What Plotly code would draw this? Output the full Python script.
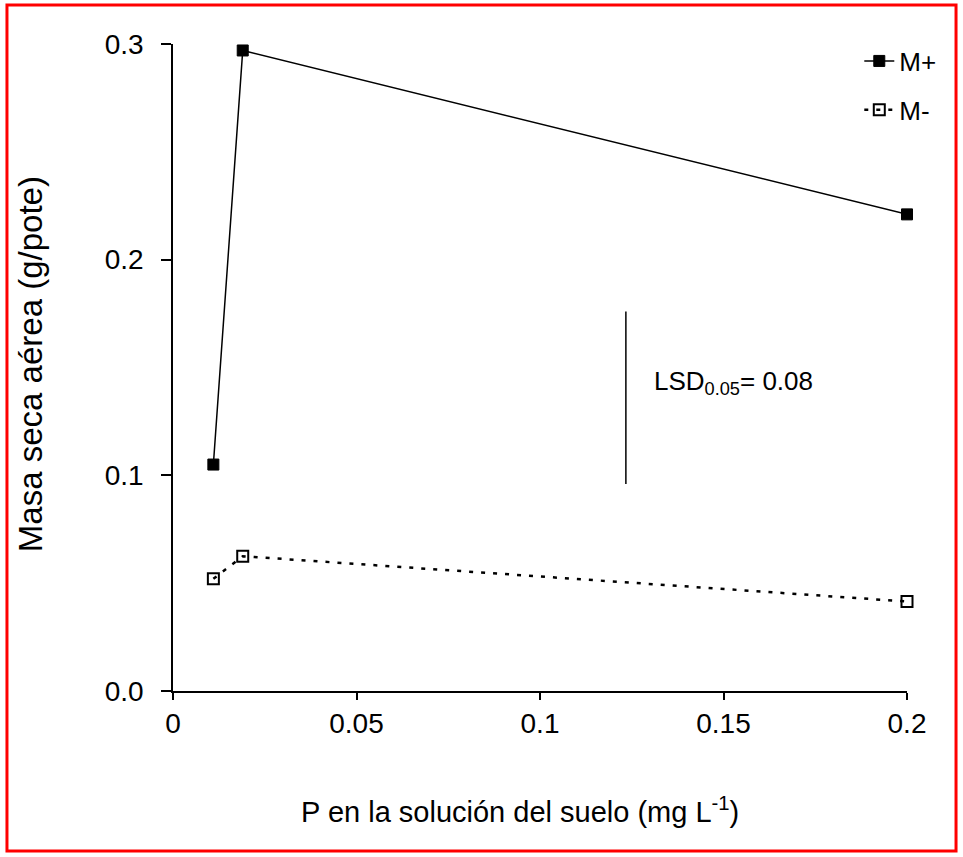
import plotly.graph_objects as go

# Data
p_solucion = [0.011, 0.019, 0.2]
masa_m_plus = [0.105, 0.297, 0.221]
masa_m_minus = [0.052, 0.0625, 0.0415]
lsd_x = 0.1234
lsd_center = 0.136
lsd_value = 0.08
x_ticks = [0, 0.05, 0.1, 0.15, 0.2]
x_ticklabels = ["0", "0.05", "0.1", "0.15", "0.2"]
y_ticks = [0.0, 0.1, 0.2, 0.3]
y_ticklabels = ["0.0", "0.1", "0.2", "0.3"]

FONT = "Liberation Sans, Arial, sans-serif"

fig = go.Figure()
fig.add_trace(go.Scatter(
    x=p_solucion, y=masa_m_plus, mode="lines+markers", name="M+",
    line=dict(color="black", width=1.5),
    marker=dict(symbol="square", size=11, color="black",
                line=dict(color="black", width=1)),
    legendgroup="a", cliponaxis=False,
))
fig.add_trace(go.Scatter(
    x=p_solucion, y=masa_m_minus, mode="lines+markers", name="M-",
    line=dict(color="black", width=2.5, dash="4px,8px"),
    marker=dict(symbol="square-open", size=11, color="black",
                line=dict(color="black", width=2)),
    legendgroup="b", cliponaxis=False,
))

# LSD bar
fig.add_shape(type="line", xref="x", yref="y",
              x0=lsd_x, x1=lsd_x,
              y0=lsd_center - lsd_value / 2, y1=lsd_center + lsd_value / 2,
              line=dict(color="black", width=1.5))
fig.add_annotation(x=lsd_x + 0.0071, y=lsd_center + 0.007, xref="x", yref="y",
                   text="LSD<sub>0.05</sub>= " + f"{lsd_value:.2f}",
                   showarrow=False, xanchor="left", yanchor="middle",
                   font=dict(size=26, color="black", family=FONT))

# Axis titles
fig.add_annotation(x=-0.195, y=0.505, xref="paper", yref="paper",
                   text="Masa seca aérea (g/pote)", textangle=-90,
                   showarrow=False, xanchor="center", yanchor="middle",
                   font=dict(size=33, color="black", family=FONT))
fig.add_annotation(x=0.473, y=-0.184, xref="paper", yref="paper",
                   text="P en la solución del suelo (mg L<sup>-1</sup>)",
                   showarrow=False, xanchor="center", yanchor="middle",
                   font=dict(size=29, color="black", family=FONT))

# Red frame
fig.add_shape(type="rect", xref="paper", yref="paper",
              x0=-0.2262, x1=1.0668, y0=-0.2473, y1=1.0603,
              line=dict(color="red", width=3))

fig.update_layout(
    width=963, height=857,
    margin=dict(l=173, r=56, t=44, b=166),
    paper_bgcolor="white", plot_bgcolor="white",
    font=dict(family=FONT, color="black", size=26),
    showlegend=True,
    legend=dict(x=0.935, y=1.01, xanchor="left", yanchor="top",
                bgcolor="rgba(0,0,0,0)", font=dict(size=26, family=FONT),
                tracegroupgap=12),
    xaxis=dict(range=[0, 0.2], tickvals=x_ticks, ticktext=x_ticklabels,
               showgrid=False, zeroline=False, showline=True,
               linecolor="black", linewidth=1.5, ticks="outside",
               ticklen=7, tickwidth=1.5, tickcolor="black",
               tickfont=dict(size=28, family=FONT, color="black")),
    yaxis=dict(range=[0, 0.3], tickvals=y_ticks, ticktext=y_ticklabels,
               showgrid=False, zeroline=False, showline=True,
               linecolor="black", linewidth=1.5, ticks="outside",
               ticklen=10, tickwidth=1.5, tickcolor="black",
               ticklabelstandoff=12,
               tickfont=dict(size=28, family=FONT, color="black")),
)

fig.write_html("out.html")
